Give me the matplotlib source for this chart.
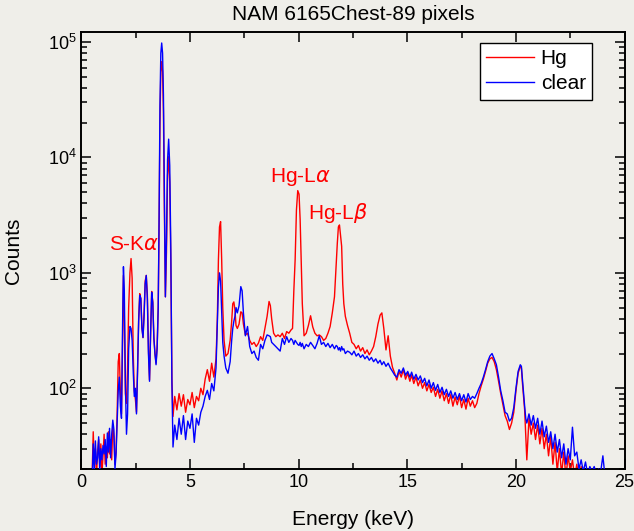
import numpy as np
import matplotlib
matplotlib.use('Agg')
import matplotlib.pyplot as plt
from matplotlib.ticker import MultipleLocator, LogLocator, NullFormatter

plt.rcParams['font.family'] = ['Liberation Sans', 'DejaVu Sans']

# spectrum: energy (keV), Hg sample counts, clear area counts
energy = [
    0.50, 0.55, 0.60, 0.65, 0.70, 0.75, 0.80, 0.85, 0.90, 0.95,
    1.00, 1.05, 1.10, 1.15, 1.20, 1.25, 1.30, 1.35, 1.40, 1.45,
    1.50, 1.55, 1.60, 1.65, 1.70, 1.75, 1.80, 1.85, 1.90, 1.94,
    1.98, 2.03, 2.08, 2.13, 2.18, 2.24, 2.29, 2.34, 2.39, 2.44,
    2.49, 2.54, 2.59, 2.64, 2.69, 2.74, 2.79, 2.84, 2.89, 2.94,
    2.99, 3.04, 3.09, 3.14, 3.19, 3.24, 3.29, 3.34, 3.39, 3.44,
    3.49, 3.54, 3.58, 3.62, 3.66, 3.70, 3.74, 3.78, 3.82, 3.87,
    3.92, 3.97, 4.02, 4.07, 4.12, 4.17, 4.22, 4.30, 4.40, 4.50,
    4.60, 4.70, 4.80, 4.90, 5.00, 5.10, 5.20, 5.30, 5.40, 5.50,
    5.60, 5.70, 5.80, 5.90, 6.00, 6.10, 6.20, 6.26, 6.31, 6.36,
    6.41, 6.46, 6.51, 6.57, 6.65, 6.75, 6.85, 6.92, 6.97, 7.02,
    7.07, 7.12, 7.18, 7.26, 7.34, 7.40, 7.46, 7.55, 7.65, 7.75,
    7.85, 7.95, 8.05, 8.15, 8.25, 8.35, 8.45, 8.55, 8.64, 8.70,
    8.76, 8.85, 8.95, 9.05, 9.15, 9.25, 9.35, 9.45, 9.55, 9.65,
    9.72, 9.78, 9.84, 9.90, 9.96, 10.02, 10.07, 10.12, 10.17, 10.25,
    10.35, 10.45, 10.55, 10.65, 10.75, 10.85, 10.95, 11.05, 11.15, 11.25,
    11.35, 11.45, 11.55, 11.65, 11.73, 11.78, 11.83, 11.88, 11.93, 11.98,
    12.03, 12.08, 12.15, 12.25, 12.35, 12.45, 12.55, 12.65, 12.75, 12.85,
    12.95, 13.05, 13.15, 13.25, 13.35, 13.45, 13.55, 13.65, 13.75, 13.83,
    13.92, 14.02, 14.12, 14.22, 14.32, 14.42, 14.52, 14.62, 14.72, 14.82,
    14.92, 15.02, 15.12, 15.2, 15.3, 15.4, 15.5, 15.6, 15.7, 15.8,
    15.9, 16.0, 16.1, 16.2, 16.3, 16.4, 16.5, 16.6, 16.7, 16.8,
    16.9, 17.0, 17.1, 17.2, 17.3, 17.4, 17.5, 17.6, 17.7, 17.8,
    17.9, 18.0, 18.1, 18.2, 18.3, 18.4, 18.5, 18.6, 18.7, 18.8,
    18.9, 19.0, 19.1, 19.2, 19.3, 19.4, 19.5, 19.6, 19.7, 19.8,
    19.9, 20.0, 20.1, 20.2, 20.25, 20.3, 20.4, 20.45, 20.5, 20.6,
    20.7, 20.8, 20.9, 21.0, 21.1, 21.2, 21.3, 21.4, 21.5, 21.6,
    21.7, 21.8, 21.9, 22.0, 22.1, 22.2, 22.3, 22.4, 22.5, 22.6,
    22.7, 22.8, 22.9, 23.0, 23.1, 23.2, 23.3, 23.4, 23.5, 23.6,
    23.7, 23.8, 23.9, 24.0, 24.1,
]

hg_counts = [
    18, 42, 22, 30, 17, 28, 36, 21, 33, 18,
    26, 40, 22, 31, 25, 42, 27, 36, 24, 48,
    38, 22, 28, 60, 170, 200, 90, 60, 250, 950,
    420, 90, 74, 150, 500, 1000, 1330, 900, 200, 95,
    80, 62, 150, 400, 660, 600, 340, 275, 450, 850,
    950, 650, 220, 118, 300, 690, 560, 280, 200, 165,
    230, 500, 2500, 20000, 55000, 67600, 55000, 25000, 4000, 620,
    1500, 7000, 10160, 6000, 1200, 120, 57, 85, 65, 90,
    70, 88, 62, 80, 72, 92, 68, 85, 78, 100,
    88, 120, 145, 115, 165, 125, 180, 400, 1300, 2500,
    2780, 1300, 500, 260, 190, 200, 260, 380, 540, 560,
    480, 350, 330, 360, 460, 450, 360, 290, 300, 260,
    240, 250, 230, 246, 280, 260, 330, 420, 565, 520,
    400, 300, 280, 290, 280, 300, 270, 310, 300, 320,
    330, 700, 1300, 3500, 5160, 4800, 2900, 1200, 540, 285,
    300, 350, 425, 340, 300, 285, 290, 280, 260, 270,
    300, 343, 450, 620, 1200, 1800, 2500, 2600, 2100, 1700,
    800, 540, 420, 350, 300, 250, 240, 220, 235, 210,
    225, 200, 215, 195, 210, 230, 280, 360, 430, 450,
    330, 215, 285, 190, 152, 135, 118, 140, 125, 145,
    120, 135, 115, 130, 110, 125, 105, 118, 100, 112,
    95, 108, 92, 102, 85, 98, 82, 95, 78, 90,
    74, 88, 70, 84, 72, 86, 68, 80, 66, 82,
    70, 78, 68, 74, 90, 105, 120, 140, 165, 180,
    185, 170, 145, 115, 90, 72, 58, 52, 44, 50,
    62, 95, 135, 155, 150, 110, 65, 40, 24, 55,
    40, 50, 36, 48, 33, 45, 30, 40, 26, 38,
    22, 34, 19, 30, 18, 28, 17, 26, 19, 24,
    17, 22, 16, 21, 15, 20, 15, 19, 15, 20,
    15, 19, 16, 18, 15,
]

clear_counts = [
    15, 33, 20, 35, 22, 25, 38, 19, 30, 24,
    32, 27, 36, 21, 41, 28, 45, 25, 40, 53,
    44, 20, 27, 50, 95, 125, 70, 55, 350, 1130,
    700, 110, 40, 60, 220, 343, 330, 260, 140, 85,
    100, 60, 140, 380, 640, 600, 330, 275, 420, 800,
    950, 600, 200, 115, 300, 680, 550, 270, 200, 160,
    220, 500, 3000, 28000, 80000, 98000, 80000, 35000, 5500, 620,
    2000, 9500, 14400, 8500, 1600, 110, 31, 48, 36, 55,
    40, 58, 36, 52, 45, 60, 34, 55, 48, 62,
    70, 85, 96, 80, 110, 95, 150, 350, 750, 1000,
    850, 450, 250, 190, 150, 135, 170, 260, 330, 380,
    420, 500, 450, 520, 760, 700, 450, 285, 343, 230,
    200, 210, 185, 175, 240, 220, 260, 290, 285, 280,
    250, 240, 230, 220, 210, 270, 240, 280, 250, 270,
    260, 240, 260, 250, 240, 235, 250, 230, 245, 220,
    240, 230, 250, 235, 220, 245, 285, 240, 250, 230,
    245, 225, 240, 220, 235, 230, 215, 225, 210, 230,
    215, 220, 200, 210, 205, 195, 210, 190, 200, 185,
    195, 180, 190, 175, 185, 170, 180, 165, 175, 160,
    170, 155, 165, 150, 140, 130, 125, 145, 135, 150,
    130, 140, 125, 138, 120, 132, 118, 128, 112, 122,
    105, 118, 100, 112, 96, 108, 92, 102, 88, 98,
    85, 95, 82, 92, 80, 90, 78, 88, 76, 90,
    80, 85, 82, 90, 100, 110, 125, 145, 170, 190,
    200, 180, 160, 125, 95, 78, 62, 60, 52, 55,
    68, 100, 140, 160, 155, 118, 70, 55, 50, 60,
    48, 58, 45, 55, 40, 52, 38, 47, 34, 42,
    30, 40, 28, 36, 25, 33, 22, 30, 24, 46,
    26, 28, 20, 24, 19, 23, 18, 21, 19, 21,
    18, 20, 19, 26, 17,
]

peak_labels = [r'S-K$\alpha$', r'Hg-L$\alpha$', r'Hg-L$\beta$']
label_pos = [(2.42, 1750), (10.1, 6800), (11.8, 3300)]

bg = '#efeee9'
fig = plt.figure(figsize=(6.34, 5.31), dpi=100, facecolor=bg)
ax = fig.add_axes([0.1282, 0.1168, 0.857, 0.8229], facecolor=bg)

ax.plot(energy, hg_counts, color='#ff0000', lw=1.0, label='Hg', zorder=2)
ax.plot(energy, clear_counts, color='#0000ff', lw=1.0, label='clear', zorder=3)

for txt, (x, y) in zip(peak_labels, label_pos):
    ax.text(x, y, txt, color='#ff0000', fontsize=15, ha='center', va='center')

ax.set_yscale('log')
ax.set_xlim(0, 25)
ax.set_ylim(20, 1.22e5)
ax.xaxis.set_major_locator(MultipleLocator(5))
ax.xaxis.set_minor_locator(MultipleLocator(2.5))
ax.yaxis.set_minor_locator(LogLocator(base=10, subs=np.arange(2, 10)))
ax.yaxis.set_minor_formatter(NullFormatter())
ax.tick_params(which='both', direction='in', top=True, right=True, width=1.1)
ax.tick_params(which='major', length=7, labelsize=13)
ax.tick_params(which='minor', length=4)
for s in ax.spines.values():
    s.set_linewidth(1.4)

ax.set_xlabel('Energy (keV)', fontsize=15, labelpad=14)
ax.set_ylabel('Counts', fontsize=15, labelpad=18)
ax.set_title('NAM 6165Chest-89 pixels', fontsize=15, pad=9)

leg = ax.legend(loc='upper right', bbox_to_anchor=(0.94, 0.975), borderaxespad=0,
                fontsize=15, fancybox=False, framealpha=1, edgecolor='black',
                facecolor='white', handlelength=2.3, handletextpad=0.3,
                borderpad=0.3, labelspacing=0.3)
leg.get_frame().set_linewidth(1.0)

fig.savefig('out.png', dpi=100, facecolor=bg)
